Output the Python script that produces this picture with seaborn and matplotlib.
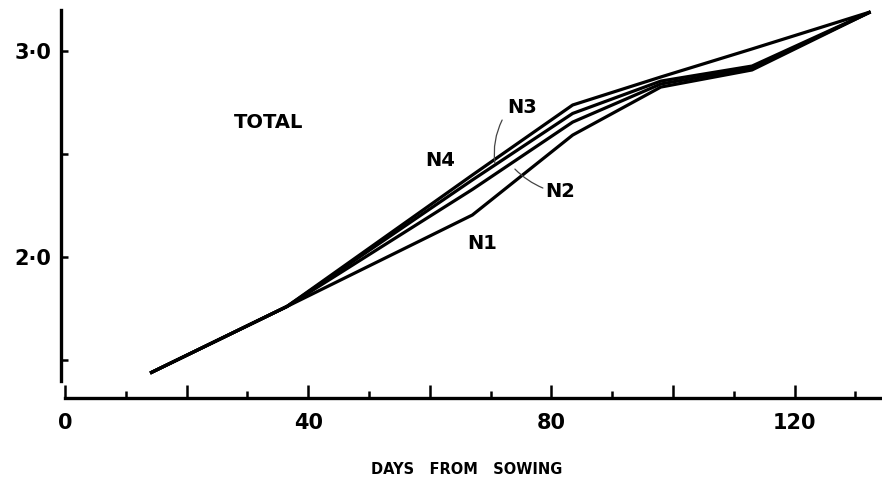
import matplotlib
matplotlib.use("Agg")
import matplotlib.pyplot as plt
import seaborn as sns
import pandas as pd

# Harvest dates (days from sowing) and total dry-matter values per nitrogen level
days = [14, 36.5, 67, 83.5, 98, 113, 132.5]
n1 = [1.437, 1.76, 2.204, 2.592, 2.825, 2.908, 3.19]
n2 = [1.437, 1.76, 2.328, 2.655, 2.840, 2.917, 3.19]
n3 = [1.437, 1.76, 2.374, 2.697, 2.854, 2.927, 3.19]
n4 = [1.437, 1.76, 2.398, 2.738, 2.874, 3.010, 3.19]
treatments = ["N1", "N2", "N3", "N4"]

x_major = [0, 20, 40, 60, 80, 100, 120]
x_minor = [10, 30, 50, 70, 90, 110, 130]
x_labels = ["0", "", "40", "", "80", "", "120"]
y_ticks = [1.5, 2.0, 2.5, 3.0]
y_labels = ["", "2·0", "", "3·0"]

frames = []
for name, vals in zip(treatments, [n1, n2, n3, n4]):
    frames.append(pd.DataFrame({"day": days, "value": vals, "treatment": name}))
df = pd.concat(frames, ignore_index=True)

sns.set_style("white")
plt.rcParams["font.family"] = ["DejaVu Sans"]
plt.rcParams["text.color"] = "black"

W, H = 882, 482
fig = plt.figure(figsize=(W / 100, H / 100), dpi=100)
ax = fig.add_axes([65 / W, 84 / H, 815 / W, 388 / H])

sns.lineplot(data=df, x="day", y="value", hue="treatment",
             palette=["black"] * 4, legend=False, linewidth=2.3,
             sort=True, ax=ax, solid_capstyle="butt")

ax.set_xlim(0, 134.05)
ax.set_ylim(1.316, 3.199)

for side in ["top", "right"]:
    ax.spines[side].set_visible(False)
for side in ["left", "bottom"]:
    ax.spines[side].set_linewidth(2.4)
    ax.spines[side].set_color("black")
ax.spines["left"].set_position(("data", -0.6))
ax.spines["left"].set_bounds(1.40, 3.199)

ax.set_xticks(x_major)
ax.set_xticklabels(x_labels)
ax.set_xticks(x_minor, minor=True)
ax.tick_params(axis="x", which="both", bottom=True, top=False)
ax.tick_params(axis="x", which="major", direction="in", length=9.5, width=1.8,
               pad=11, labelsize=15, colors="black")
ax.tick_params(axis="x", which="minor", direction="in", length=5, width=1.8,
               colors="black")

ax.set_yticks(y_ticks)
ax.set_yticklabels(y_labels)
ax.tick_params(axis="y", which="major", left=True, right=False, direction="in",
               length=5, width=1.8, pad=7, labelsize=15, colors="black")
for lab in ax.get_xticklabels() + ax.get_yticklabels():
    lab.set_fontweight("bold")

ax.set_xlabel("")
ax.set_ylabel("")

txt = dict(fontsize=14, fontweight="bold", color="black", ha="center", va="center")
ax.text(33.4, 2.655, "TOTAL", **txt)
ax.text(75.2, 2.728, "N3", **txt)
ax.text(61.7, 2.471, "N4", **txt)
ax.text(81.4, 2.316, "N2", **txt)
ax.text(68.6, 2.068, "N1", **txt)

# Leader lines from labels to their curves
ax.annotate("", xy=(70.7, 2.456), xytext=(71.9, 2.665),
            arrowprops=dict(arrowstyle="-", color="#444444", lw=0.9,
                            connectionstyle="arc3,rad=0.15",
                            shrinkA=0, shrinkB=0))
ax.annotate("", xy=(74.0, 2.427), xytext=(78.6, 2.335),
            arrowprops=dict(arrowstyle="-", color="#444444", lw=0.9,
                            connectionstyle="arc3,rad=-0.1",
                            shrinkA=0, shrinkB=0))

fig.text(467 / W, 1 - 470 / H, "DAYS   FROM   SOWING", fontsize=10.5,
         fontweight="bold", color="black", ha="center", va="center")

fig.savefig("out.png", dpi=100, facecolor="white")
